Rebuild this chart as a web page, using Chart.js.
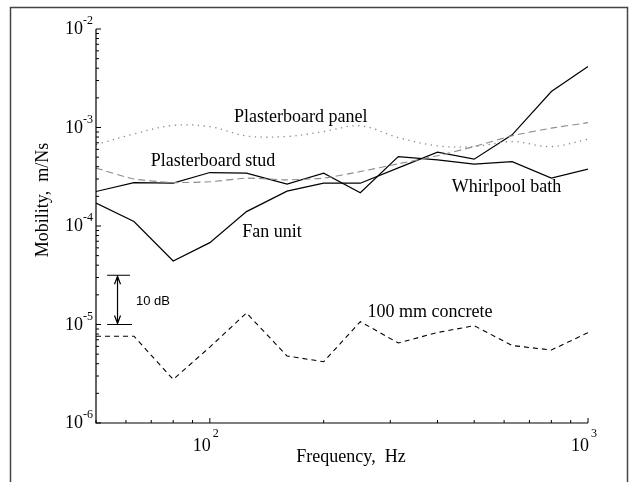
<!DOCTYPE html>
<html lang="en">
<head>
    <meta charset="UTF-8">
    <title>Mobility</title>
    <style>
        body { margin: 0; background: #fff; }
        #wrap { width: 632px; height: 482px; }
    </style>
</head>
<body>
    <div id="wrap"><canvas id="chart" width="632" height="482"></canvas></div>
    <script src="https://cdn.jsdelivr.net/npm/chart.js"></script>
    <script>
        // third-octave band centres, Hz
        const freqs = [50, 63, 80, 100, 125, 160, 200, 250, 315, 400, 500, 630, 800, 1000];

        // mobility, m/Ns
        const panel     = [6.7e-4, 8.6e-4, 1.05e-3, 1.02e-3, 8.2e-4, 8.1e-4, 9.1e-4, 1.04e-3, 7.9e-4, 6.5e-4, 6.4e-4, 7.2e-4, 6.4e-4, 7.6e-4];
        const stud      = [3.87e-4, 3.0e-4, 2.76e-4, 2.81e-4, 3.06e-4, 2.94e-4, 3.06e-4, 3.57e-4, 4.28e-4, 5.16e-4, 6.41e-4, 8.24e-4, 9.86e-4, 1.12e-3];
        const whirlpool = [2.24e-4, 2.76e-4, 2.72e-4, 3.49e-4, 3.44e-4, 2.66e-4, 3.44e-4, 2.18e-4, 5.07e-4, 4.7e-4, 4.25e-4, 4.5e-4, 3.06e-4, 3.78e-4];
        const fanUnit   = [1.71e-4, 1.11e-4, 4.42e-5, 6.78e-5, 1.4e-4, 2.26e-4, 2.72e-4, 2.72e-4, 3.89e-4, 5.62e-4, 4.77e-4, 8.43e-4, 2.32e-3, 4.17e-3];
        const concrete  = [7.6e-6, 7.6e-6, 2.77e-6, 5.9e-6, 1.31e-5, 4.79e-6, 4.19e-6, 1.07e-5, 6.49e-6, 8.3e-6, 9.72e-6, 6.12e-6, 5.51e-6, 8.26e-6];

        // axis ticks (decades) and their labels
        const xMajor = [100, 1000];
        const xMajorExp = ['2', '3'];
        const yMajor = [1e-2, 1e-3, 1e-4, 1e-5, 1e-6];
        const yMajorExp = ['-2', '-3', '-4', '-5', '-6'];

        // curve labels: [text, frequency, mobility]
        const curveLabels = [
            ['Plasterboard panel', 174, 1.14e-3],
            ['Plasterboard stud', 102, 4.08e-4],
            ['Whirlpool bath', 609, 2.22e-4],
            ['Fan unit', 146, 7.75e-5],
            ['100 mm concrete', 382, 1.19e-5]
        ];

        // 10 dB scale bar: frequency of arrow, bar ends, bottom/top mobility
        const dbBar = { f: 57, f1: 53.5, f2: 61.5, lo: 1e-5, hi: Math.pow(10, -4.5), label: '10 dB', labelF: 63.8, labelY: 1.58e-5 };

        const toPts = vals => freqs.map((f, i) => ({ x: f, y: vals[i] }));

        const serif = '"Liberation Serif", "Times New Roman", serif';

        const decor = {
            id: 'decor',
            afterDraw(chart) {
                const ctx = chart.ctx;
                const xs = chart.scales.x, ys = chart.scales.y;
                const a = chart.chartArea;
                ctx.save();

                // outer frame
                ctx.strokeStyle = '#444';
                ctx.lineWidth = 1.5;
                ctx.strokeRect(10.5, 7.5, 617, 490);

                // axis lines
                ctx.strokeStyle = '#000';
                ctx.lineWidth = 1.2;
                ctx.beginPath();
                ctx.moveTo(a.left, a.top);
                ctx.lineTo(a.left, a.bottom);
                ctx.lineTo(a.right, a.bottom);
                ctx.stroke();

                // y ticks (inside)
                ctx.lineWidth = 1;
                ctx.beginPath();
                for (let e = -6; e <= -2; e++) {
                    const base = Math.pow(10, e);
                    let y = ys.getPixelForValue(base);
                    ctx.moveTo(a.left, y); ctx.lineTo(a.left + 5, y);
                    if (e === -2) continue;
                    for (let m = 2; m <= 9; m++) {
                        y = ys.getPixelForValue(base * m);
                        ctx.moveTo(a.left, y); ctx.lineTo(a.left + 3, y);
                    }
                }
                // x ticks (inside)
                for (let e = 1; e <= 3; e++) {
                    const base = Math.pow(10, e);
                    for (let m = 1; m <= 9; m++) {
                        const v = base * m;
                        if (v < 50 || v > 1000) continue;
                        const x = xs.getPixelForValue(v);
                        ctx.moveTo(x, a.bottom); ctx.lineTo(x, a.bottom - (m === 1 ? 5 : 3));
                    }
                }
                ctx.stroke();

                // tick labels
                ctx.fillStyle = '#000';
                yMajor.forEach((v, i) => {
                    const y = ys.getPixelForValue(v);
                    ctx.font = '18px ' + serif;
                    ctx.textAlign = 'right';
                    ctx.fillText('10', 83, y + 5);
                    ctx.font = '12px ' + serif;
                    ctx.textAlign = 'left';
                    ctx.fillText(yMajorExp[i], 83, y - 5);
                });
                xMajor.forEach((v, i) => {
                    const x = xs.getPixelForValue(v);
                    ctx.font = '18px ' + serif;
                    ctx.textAlign = 'right';
                    ctx.fillText('10', x + 1, 451);
                    ctx.font = '12px ' + serif;
                    ctx.textAlign = 'left';
                    ctx.fillText(xMajorExp[i], x + 3, 437);
                });

                // axis titles
                ctx.font = '18px ' + serif;
                ctx.textAlign = 'center';
                ctx.fillText('Frequency,  Hz', 351, 462);
                ctx.save();
                ctx.translate(48, 200);
                ctx.rotate(-Math.PI / 2);
                ctx.fillText('Mobility,  m/Ns', 0, 0);
                ctx.restore();

                // curve labels
                curveLabels.forEach(([t, f, v]) => {
                    ctx.fillText(t, xs.getPixelForValue(f), ys.getPixelForValue(v));
                });

                // 10 dB bar
                const bx = xs.getPixelForValue(dbBar.f);
                const b1 = xs.getPixelForValue(dbBar.f1);
                const b2 = xs.getPixelForValue(dbBar.f2);
                const yl = ys.getPixelForValue(dbBar.lo);
                const yh = ys.getPixelForValue(dbBar.hi);
                ctx.lineWidth = 1.2;
                ctx.beginPath();
                ctx.moveTo(b1, yh); ctx.lineTo(b2, yh);
                ctx.moveTo(b1, yl); ctx.lineTo(b2 + 2, yl);
                ctx.moveTo(bx, yh + 1); ctx.lineTo(bx, yl - 1);
                // arrow heads
                ctx.moveTo(bx - 3, yh + 9); ctx.lineTo(bx, yh + 1); ctx.lineTo(bx + 3, yh + 9);
                ctx.moveTo(bx - 3, yl - 9); ctx.lineTo(bx, yl - 1); ctx.lineTo(bx + 3, yl - 9);
                ctx.stroke();
                ctx.font = '13px "Liberation Sans", Arial, sans-serif';
                ctx.textAlign = 'left';
                ctx.fillText(dbBar.label, xs.getPixelForValue(dbBar.labelF), ys.getPixelForValue(dbBar.labelY));

                ctx.restore();
            }
        };

        new Chart(document.getElementById('chart').getContext('2d'), {
            type: 'line',
            data: {
                datasets: [
                    { label: 'Plasterboard panel', data: toPts(panel), borderColor: '#8a8a8a', borderWidth: 1.3, borderDash: [1.3, 4.5], tension: 0.35 },
                    { label: 'Plasterboard stud', data: toPts(stud), borderColor: '#8c8c8c', borderWidth: 1.1, borderDash: [7, 4], tension: 0.15 },
                    { label: 'Whirlpool bath', data: toPts(whirlpool), borderColor: '#000', borderWidth: 1.2 },
                    { label: 'Fan unit', data: toPts(fanUnit), borderColor: '#000', borderWidth: 1.2 },
                    { label: '100 mm concrete', data: toPts(concrete), borderColor: '#000', borderWidth: 1.1, borderDash: [5, 4] }
                ]
            },
            options: {
                responsive: false,
                animation: false,
                layout: { padding: { left: 96, top: 29, right: 44, bottom: 59 } },
                elements: { point: { radius: 0 }, line: { fill: false } },
                plugins: { legend: { display: false }, tooltip: { enabled: false } },
                scales: {
                    x: { type: 'logarithmic', min: 50, max: 1000, display: false },
                    y: { type: 'logarithmic', min: 1e-6, max: 1e-2, display: false }
                }
            },
            plugins: [decor]
        });
    </script>
</body>
</html>
